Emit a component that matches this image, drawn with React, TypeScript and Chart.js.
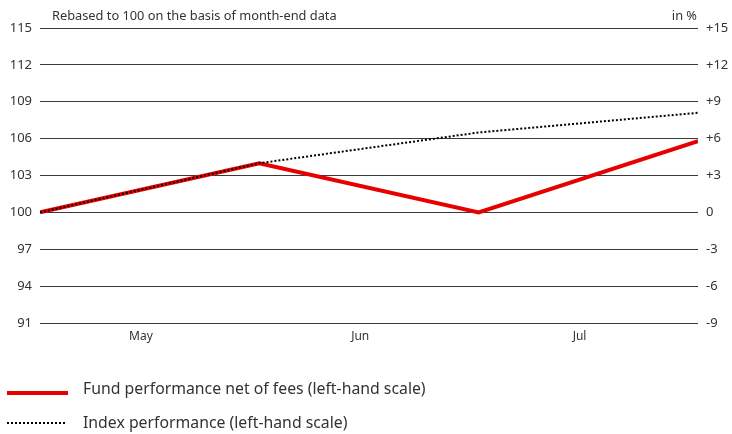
import React, { useEffect, useRef } from "react";
import { Chart, registerables } from "chart.js";

Chart.register(...registerables);

const monthLabels = ["May", "Jun", "Jul"];
const monthLabelPos = [0.46, 1.46, 2.46];
const pointX = [0, 1, 2, 3];
const fundValues = [100, 104, 100, 105.8];
const indexValues = [100, 104, 106.5, 108.1];
const leftTicks = [91, 94, 97, 100, 103, 106, 109, 112, 115];
const rightTicks = [-9, -6, -3, 0, 3, 6, 9, 12, 15];
const titleText = "Rebased to 100 on the basis of month-end data";
const unitText = "in %";
const legendFund = "Fund performance net of fees (left-hand scale)";
const legendIndex = "Index performance (left-hand scale)";

const FONT = "'Noto Sans', 'Open Sans', sans-serif";
const TEXT = "#333333";

export default function App() {
  const ref = useRef<HTMLCanvasElement | null>(null);

  useEffect(() => {
    if (!ref.current) return;
    const annot = {
      id: "annot",
      afterDraw(chart: any) {
        const { ctx, chartArea } = chart;
        ctx.save();
        ctx.fillStyle = TEXT;
        ctx.font = `12.8px ${FONT}`;
        ctx.textBaseline = "middle";
        ctx.textAlign = "left";
        ctx.fillText(titleText, chartArea.left + 12, chartArea.top - 12);
        ctx.textAlign = "right";
        ctx.fillText(unitText, chartArea.right - 1, chartArea.top - 12);
        ctx.restore();
      },
    };
    const chart = new Chart(ref.current, {
      type: "line",
      data: {
        datasets: [
          {
            label: legendIndex,
            data: pointX.map((x, i) => ({ x, y: indexValues[i] })),
            borderColor: "#000000",
            borderWidth: 2,
            borderDash: [2, 2],
            pointRadius: 0,
            tension: 0,
            yAxisID: "y",
          },
          {
            label: legendFund,
            data: pointX.map((x, i) => ({ x, y: fundValues[i] })),
            borderColor: "#e60000",
            borderWidth: 4,
            pointRadius: 0,
            tension: 0,
            yAxisID: "y",
          },
        ],
      },
      options: {
        animation: false,
        responsive: false,
        layout: { padding: { top: 28, bottom: 87, left: 0, right: 0 } },
        plugins: { legend: { display: false }, tooltip: { enabled: false } },
        scales: {
          x: {
            type: "linear",
            min: 0,
            max: 3,
            grid: { display: false },
            border: { display: false },
            afterBuildTicks: (axis: any) => {
              axis.ticks = monthLabelPos.map((v) => ({ value: v }));
            },
            afterFit: (scale: any) => {
              scale.height = 24;
            },
            ticks: {
              padding: -2,
              color: TEXT,
              font: { family: FONT, size: 12 },
              maxRotation: 0,
              callback: (v: any) => {
                const i = monthLabelPos.findIndex((p) => Math.abs(p - Number(v)) < 0.01);
                return i >= 0 ? monthLabels[i] : "";
              },
            },
          },
          y: {
            position: "left",
            min: 91,
            max: 115,
            afterBuildTicks: (axis: any) => {
              axis.ticks = leftTicks.map((v) => ({ value: v }));
            },
            afterFit: (scale: any) => {
              scale.width = 40;
            },
            grid: { color: "#3a3a3a", lineWidth: 1, drawTicks: false },
            border: { display: false },
            ticks: {
              padding: 8,
              color: TEXT,
              font: { family: FONT, size: 13 },
              callback: (v: any) => String(v),
            },
          },
          y1: {
            position: "right",
            min: -9,
            max: 15,
            afterBuildTicks: (axis: any) => {
              axis.ticks = rightTicks.map((v) => ({ value: v }));
            },
            afterFit: (scale: any) => {
              scale.width = 34;
            },
            grid: { display: false, drawTicks: false },
            border: { display: false },
            ticks: {
              padding: 8,
              color: TEXT,
              font: { family: FONT, size: 13 },
              callback: (v: any) => (Number(v) > 0 ? "+" + v : String(v)),
            },
          },
        },
      },
      plugins: [annot],
    });
    return () => chart.destroy();
  }, []);

  return (
    <div style={{ position: "fixed", left: 0, top: 0, width: 732, height: 434, background: "#fff" }}>
      <canvas ref={ref} width={732} height={434} style={{ position: "absolute", left: 0, top: 0 }} />
      <div style={{ position: "absolute", left: 7, top: 391, width: 61, height: 4, background: "#e60000" }} />
      <div
        style={{
          position: "absolute",
          left: 83,
          top: 378,
          fontFamily: FONT,
          fontSize: 15.8,
          color: TEXT,
          lineHeight: "20px",
          whiteSpace: "nowrap",
        }}
      >
        {legendFund}
      </div>
      <div
        style={{
          position: "absolute",
          left: 7,
          top: 422,
          width: 58,
          height: 2,
          backgroundImage: "repeating-linear-gradient(to right, #000 0 2px, transparent 2px 4px)",
        }}
      />
      <div
        style={{
          position: "absolute",
          left: 83,
          top: 412,
          fontFamily: FONT,
          fontSize: 15.8,
          color: TEXT,
          lineHeight: "20px",
          whiteSpace: "nowrap",
        }}
      >
        {legendIndex}
      </div>
    </div>
  );
}
